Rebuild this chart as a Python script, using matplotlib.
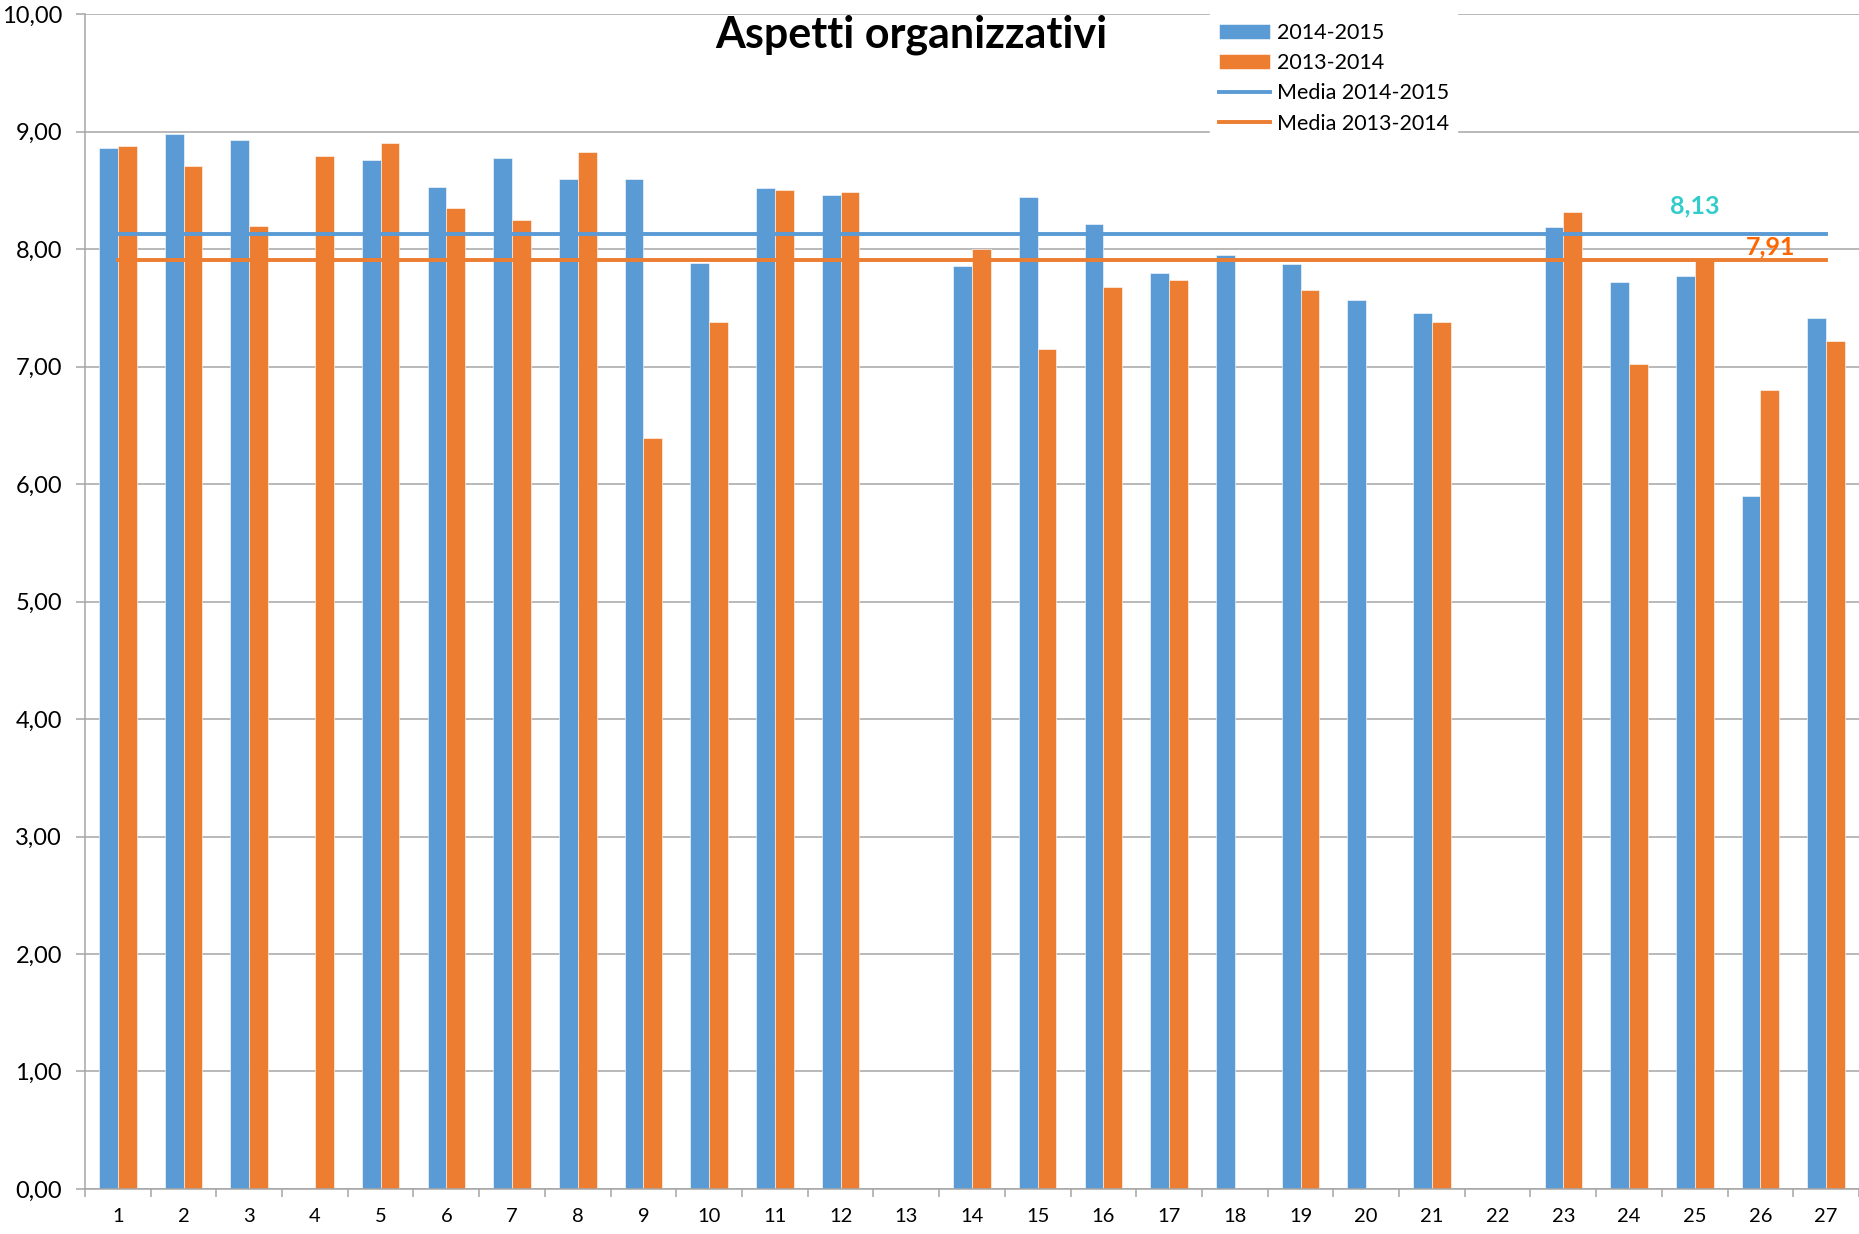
import numpy as np
import matplotlib.pyplot as plt

plt.rcParams['font.family'] = ['Lato', 'DejaVu Sans']

# Data (nan = no bar)
categories = [str(i) for i in range(1, 28)]
values_1415 = [8.86, 8.98, 8.93, np.nan, 8.76, 8.53, 8.78, 8.60, 8.60, 7.88,
               8.52, 8.46, np.nan, 7.86, 8.44, 8.21, 7.80, 7.95, 7.87, 7.57,
               7.46, np.nan, 8.19, 7.72, 7.77, 5.90, 7.41]
values_1314 = [8.88, 8.71, 8.20, 8.79, 8.90, 8.35, 8.25, 8.83, 6.39, 7.38,
               8.50, 8.49, np.nan, 8.00, 7.15, 7.68, 7.74, np.nan, 7.65, np.nan,
               7.38, np.nan, 8.32, 7.02, 7.92, 6.80, 7.22]
mean_1415 = 8.13
mean_1314 = 7.91

BLUE = '#5B9BD5'
ORANGE = '#ED7D31'
GRID = '#A6A6A6'

fig = plt.figure(figsize=(18.59, 12.34), dpi=100)
ax = fig.add_axes([0.0457, 0.0365, 0.9543, 0.952])

x = np.arange(len(categories))
w = 0.286

b1 = ax.bar(x - w / 2, values_1415, w, color=BLUE, edgecolor='white', linewidth=0.4,
            label='2014-2015', zorder=2)
b2 = ax.bar(x + w / 2, values_1314, w, color=ORANGE, edgecolor='white', linewidth=0.4,
            label='2013-2014', zorder=2)

# Mean lines run from the first to the last category centre
l1, = ax.plot([x[0], x[-1]], [mean_1415, mean_1415], color=BLUE, lw=2.8,
              label='Media 2014-2015', zorder=3)
l2, = ax.plot([x[0], x[-1]], [mean_1314, mean_1314], color=ORANGE, lw=2.8,
              label='Media 2013-2014', zorder=3)

ax.text(24.0, 8.37, f'{mean_1415:.2f}'.replace('.', ','), color='#33CCCC',
        fontsize=18, fontweight='bold', ha='center', va='center', zorder=4)
ax.text(25.15, 8.02, f'{mean_1314:.2f}'.replace('.', ','), color='#FF6600',
        fontsize=18, fontweight='bold', ha='center', va='center', zorder=4)

# Axes
ax.set_xlim(-0.5, len(categories) - 0.5)
ax.set_ylim(0, 10)
ax.set_yticks(np.arange(0, 11, 1))
ax.set_yticklabels([f'{v:.2f}'.replace('.', ',') for v in range(0, 11)], fontsize=17)
ax.set_xticks(x)
ax.set_xticklabels(categories, fontsize=14.5)
ax.set_xticks(np.arange(-0.5, len(categories)), minor=True)
ax.tick_params(axis='x', which='major', length=0, pad=14)
ax.tick_params(axis='x', which='minor', length=6, color=GRID, width=1.1)
ax.tick_params(axis='y', length=6.5, color=GRID, width=1.1, pad=10)

ax.yaxis.grid(True, color=GRID, lw=1.1, zorder=0)
ax.set_axisbelow(True)
for side in ['top', 'right']:
    ax.spines[side].set_visible(False)
for side in ['left', 'bottom']:
    ax.spines[side].set_color(GRID)
    ax.spines[side].set_linewidth(1.1)

fig.text(0.49, 0.972, 'Aspetti organizzativi', fontsize=31, fontweight='bold',
         ha='center', va='center')

leg = ax.legend([b1, b2, l1, l2], ['2014-2015', '2013-2014', 'Media 2014-2015', 'Media 2013-2014'],
                loc='upper left', bbox_to_anchor=(1210 / 1859, 1 - 14 / 1234),
                bbox_transform=fig.transFigure, fontsize=15.5, frameon=True,
                fancybox=False, edgecolor='white', framealpha=1,
                handlelength=2.4, labelspacing=0.48, handletextpad=0.3,
                borderpad=0.4, borderaxespad=0)
leg.set_zorder(5)

fig.savefig('out.png', dpi=100)
